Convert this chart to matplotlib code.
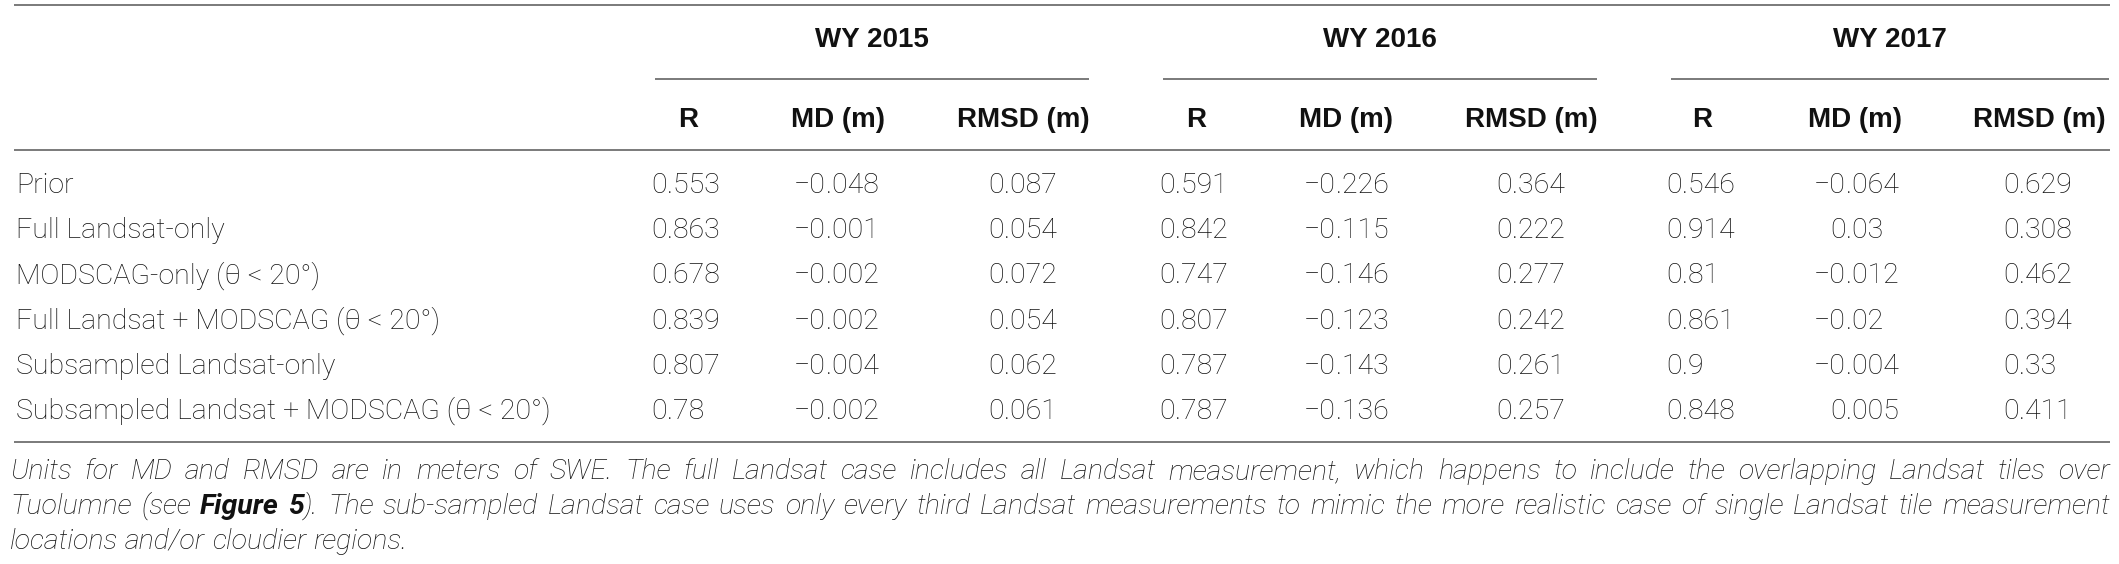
import matplotlib
matplotlib.use('Agg')
import matplotlib.pyplot as plt

# table content
years = ['WY 2015', 'WY 2016', 'WY 2017']
metrics = ['R', 'MD (m)', 'RMSD (m)']
rows = ['Prior',
        'Full Landsat-only',
        'MODSCAG-only (θ < 20°)',
        'Full Landsat + MODSCAG (θ < 20°)',
        'Subsampled Landsat-only',
        'Subsampled Landsat + MODSCAG (θ < 20°)']

r_2015 = [0.553, 0.863, 0.678, 0.839, 0.807, 0.78]
md_2015 = [-0.048, -0.001, -0.002, -0.002, -0.004, -0.002]
rmsd_2015 = [0.087, 0.054, 0.072, 0.054, 0.062, 0.061]
r_2016 = [0.591, 0.842, 0.747, 0.807, 0.787, 0.787]
md_2016 = [-0.226, -0.115, -0.146, -0.123, -0.143, -0.136]
rmsd_2016 = [0.364, 0.222, 0.277, 0.242, 0.261, 0.257]
r_2017 = [0.546, 0.914, 0.81, 0.861, 0.9, 0.848]
md_2017 = [-0.064, 0.03, -0.012, -0.02, -0.004, 0.005]
rmsd_2017 = [0.629, 0.308, 0.462, 0.394, 0.33, 0.411]

caption = [
    [('Units for MD and RMSD are in meters of SWE. The full Landsat case includes all Landsat '
      'measurement, which happens to include the overlapping Landsat tiles over', False)],
    [('Tuolumne (see ', False), ('Figure 5', True),
     ('). The sub-sampled Landsat case uses only every third Landsat measurements to mimic the '
      'more realistic case of single Landsat tile measurement', False)],
    [('locations and/or cloudier regions.', False)],
]

columns = [r_2015, md_2015, rmsd_2015, r_2016, md_2016, rmsd_2016, r_2017, md_2017, rmsd_2017]

# layout (pixels)
W, H = 2119, 564
HEAD = ['Liberation Sans', 'DejaVu Sans']
BODY = ['Roboto', 'Liberation Sans', 'DejaVu Sans']
TXT = '#111111'
LINE = '#7a7a7a'
col_center = [688, 838, 1023, 1196, 1346, 1531, 1702, 1855, 2039]
col_dot = [667, 826, 1004, 1175, 1336, 1512, 1682, 1846, 2019]
group_span = [(655, 1089), (1163, 1597), (1671, 2109)]
x_left, x_right = 14, 2110
row_y0, row_dy = 193, 45.2
body_fs = 20.5
cap_fs = 20.5
cap_x, cap_y0, cap_dy = 10, 479, 35

fig = plt.figure(figsize=(W / 100, H / 100), dpi=100)
ax = fig.add_axes([0, 0, 1, 1])
ax.set_xlim(0, W)
ax.set_ylim(H, 0)
ax.axis('off')

# rules
for y in [5, 150, 442]:
    ax.plot([x_left, x_right], [y, y], color=LINE, lw=1.4, solid_capstyle='butt')
for (a, b), name in zip(group_span, years):
    ax.plot([a, b], [79, 79], color=LINE, lw=1.4, solid_capstyle='butt')
    ax.text((a + b) / 2, 47, name, ha='center', va='baseline', fontsize=20,
            fontweight='bold', family=HEAD, color=TXT)

for i, xc in enumerate(col_center):
    ax.text(xc, 127, metrics[i % 3], ha='center', va='baseline', fontsize=20,
            fontweight='bold', family=HEAD, color=TXT)

# body
for j, name in enumerate(rows):
    y = row_y0 + j * row_dy
    ax.text(16, y, name, ha='left', va='baseline', fontsize=body_fs, family=BODY,
            fontweight='light', color=TXT)
    for col, xd in zip(columns, col_dot):
        s = str(col[j]).replace('-', '\u2212')
        ip, fp = s.split('.')
        ax.text(xd, y, ip, ha='right', va='baseline', fontsize=body_fs, family=BODY,
                fontweight='light', color=TXT)
        ax.text(xd, y, '.' + fp, ha='left', va='baseline', fontsize=body_fs, family=BODY,
                fontweight='light', color=TXT)

# caption, justified like the source
renderer = fig.canvas.get_renderer()


def cap_kw(bold):
    return dict(fontsize=cap_fs, style='italic', family=BODY,
                fontweight='bold' if bold else 'light')


def seg_width(s, bold):
    t = ax.text(0, 0, s, **cap_kw(bold))
    bb = t.get_window_extent(renderer)
    t.remove()
    return bb.width


space_w = seg_width('a a', False) - seg_width('aa', False)

for k, line in enumerate(caption):
    # split into words, each word a list of (text, bold) pieces
    words = [[]]
    for s, bold in line:
        parts = s.split(' ')
        for p_i, p in enumerate(parts):
            if p_i > 0:
                words.append([])
            if p:
                words[-1].append((p, bold))
    words = [w for w in words if w]
    widths = [sum(seg_width(p, b) for p, b in w) for w in words]
    justify = k < len(caption) - 1
    gap = (x_right - cap_x - sum(widths)) / (len(words) - 1) if justify else space_w
    x = cap_x
    y = cap_y0 + k * cap_dy
    for w, ww in zip(words, widths):
        xx = x
        for p, b in w:
            ax.text(xx, y, p, ha='left', va='baseline', color=TXT, **cap_kw(b))
            xx += seg_width(p, b)
        x += ww + gap

fig.savefig('out.png', dpi=100)
